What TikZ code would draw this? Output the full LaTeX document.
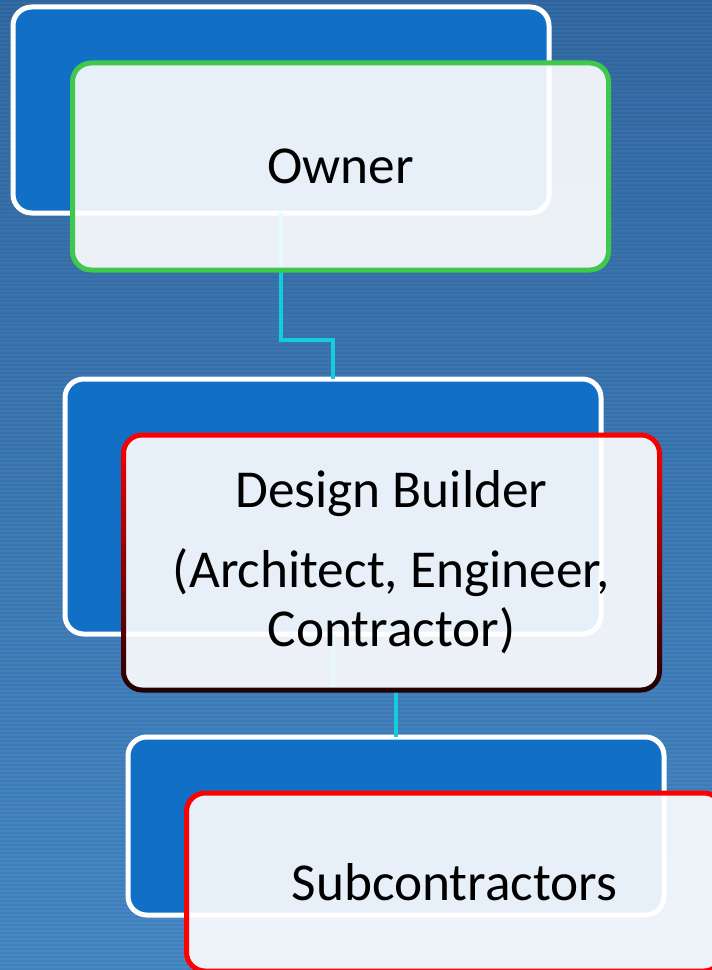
\documentclass[tikz,border=0pt]{standalone}
\usepackage{fontspec}
\setmainfont{Carlito}
\usetikzlibrary{calc}
\definecolor{bgtop}{HTML}{336BA4}
\definecolor{bgbot}{HTML}{4788C6}
\definecolor{backblue}{HTML}{1170C6}
\definecolor{linkcyan}{HTML}{14CCDA}
\definecolor{ownergreen}{HTML}{3FC84B}
\definecolor{darkrim}{HTML}{200000}
\tikzset{
  backbox/.style={draw=white, fill=backblue, line width=3.75pt, rounded corners=14pt,
    minimum width=402pt, inner sep=0pt, outer sep=0pt},
  frontbox/.style={fill=white, fill opacity=0.9, text opacity=1, line width=3.75pt,
    rounded corners=14pt, minimum width=402pt, inner sep=0pt, outer sep=0pt,
    align=center, font=\fontsize{40}{44}\selectfont},
  link/.style={draw=linkcyan, line width=3.4pt},
}
\begin{document}
\begin{tikzpicture}[x=0.75pt,y=0.75pt,yscale=-1,xscale=1]
    \useasboundingbox (0,0) rectangle (712,970);
    \clip (0,0) rectangle (712,970);
    % Background
    \shade[top color=bgtop, bottom color=bgbot] (0,0) rectangle (712,970);
    \foreach \y in {0,4,...,968}
        \fill[black, opacity=0.05] (0,\y) rectangle (712,\y+2);

    % Back boxes
    \node[backbox, minimum height=154.5pt] (ownerback) at (281,110) {};
    \node[backbox, minimum height=191.25pt] (designback) at (333,506.5) {};
    \node[backbox, minimum height=133.5pt] (subback) at (396,826) {};

    % Links
    \draw[link] (ownerback.south) -- ++(0,127) -| (designback.north);
    \draw[link] (designback.south) -- ++(0,56) -| (subback.north);

    % Front boxes
    \node[frontbox, draw=ownergreen, minimum height=155.25pt] (ownerfront) at (340.5,166.5) {Owner};
    \node[frontbox, minimum height=191.25pt] (designfront) at (391.5,562.5)
        {Design Builder\\[16pt](Architect, Engineer,\\Contractor)};
    % Rim of the design builder box, red to dark
    \shade[top color=red, middle color=red!80!black, bottom color=darkrim, even odd rule, rounded corners=16pt]
        ($(designfront.north west)+(-2.5,-2.5)$) rectangle ($(designfront.south east)+(2.5,2.5)$)
        ($(designfront.north west)+(2.5,2.5)$) [rounded corners=12pt] rectangle ($(designfront.south east)+(-2.5,-2.5)$);
    \node[frontbox, draw=red, minimum height=133.5pt] (subfront) at (454.5,882) {Subcontractors};
\end{tikzpicture}
\end{document}
